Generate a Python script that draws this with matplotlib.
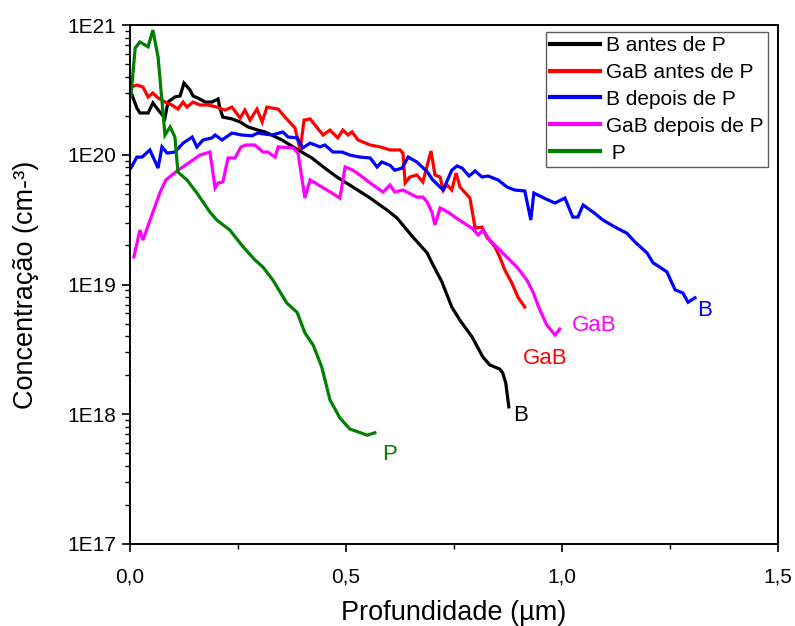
import math
import matplotlib
matplotlib.use("Agg")
import matplotlib.pyplot as plt
from matplotlib.ticker import FixedLocator, FuncFormatter, LogLocator, NullFormatter

plt.rcParams['font.family'] = ['Liberation Sans', 'DejaVu Sans']

# Depth profiles (depth in um, concentration in cm^-3)
b_antes_x = [0.002, 0.016, 0.023, 0.042, 0.053, 0.069, 0.081, 0.088, 0.104, 0.116, 0.125, 0.139,
             0.146, 0.157, 0.174, 0.190, 0.204, 0.208, 0.215, 0.236, 0.255, 0.273, 0.296, 0.313,
             0.352, 0.389, 0.421, 0.451, 0.479, 0.516, 0.556, 0.595, 0.618, 0.655, 0.688, 0.699,
             0.722, 0.745, 0.764, 0.792, 0.817, 0.833, 0.856, 0.863, 0.870, 0.877]
b_antes_y = [3.05e20, 2.29e20, 2.10e20, 2.10e20, 2.51e20, 2.14e20, 1.92e20, 2.55e20, 2.79e20, 2.84e20,
             3.57e20, 3.16e20, 2.84e20, 2.74e20, 2.55e20, 2.55e20, 2.69e20, 2.29e20, 1.95e20, 1.89e20,
             1.79e20, 1.64e20, 1.55e20, 1.50e20, 1.30e20, 1.09e20, 9.45e19, 7.9e19, 6.74e19, 5.64e19,
             4.64e19, 3.75e19, 3.26e19, 2.32e19, 1.75e19, 1.47e19, 1.05e19, 6.7e18, 5.3e18, 3.94e18,
             2.76e18, 2.40e18, 2.23e18, 2.08e18, 1.74e18, 1.14e18]

gab_antes_x = [0.002, 0.016, 0.030, 0.042, 0.053, 0.065, 0.081, 0.097, 0.111, 0.123, 0.132, 0.146,
               0.162, 0.181, 0.201, 0.220, 0.236, 0.255, 0.266, 0.278, 0.294, 0.306, 0.317, 0.343,
               0.359, 0.382, 0.394, 0.403, 0.417, 0.428, 0.447, 0.463, 0.481, 0.493, 0.505, 0.514,
               0.528, 0.556, 0.579, 0.602, 0.625, 0.632, 0.637, 0.648, 0.664, 0.678, 0.697, 0.706,
               0.718, 0.725, 0.734, 0.745, 0.755, 0.764, 0.787, 0.799, 0.815, 0.826, 0.845, 0.856,
               0.868, 0.884, 0.898, 0.914]
gab_antes_y = [3.33e20, 3.45e20, 3.33e20, 2.79e20, 2.99e20, 2.74e20, 2.55e20, 2.42e20, 2.25e20, 2.55e20,
               2.33e20, 2.55e20, 2.42e20, 2.42e20, 2.33e20, 2.21e20, 2.33e20, 1.92e20, 2.21e20, 1.85e20,
               2.25e20, 1.79e20, 2.33e20, 2.25e20, 1.95e20, 1.61e20, 1.09e20, 1.85e20, 1.89e20, 1.70e20,
               1.42e20, 1.55e20, 1.35e20, 1.55e20, 1.42e20, 1.50e20, 1.30e20, 1.19e20, 1.15e20, 1.09e20,
               1.09e20, 1.03e20, 6.06e19, 6.74e19, 6.99e19, 6.17e19, 1.07e20, 6.99e19, 6.74e19, 5.35e19,
               5.85e19, 5.35e19, 7.23e19, 5.64e19, 4.64e19, 2.72e19, 2.77e19, 2.32e19, 1.95e19, 1.63e19,
               1.29e19, 1.03e19, 8.0e18, 6.7e18]

b_depois_x = [0.002, 0.016, 0.028, 0.046, 0.065, 0.074, 0.086, 0.104, 0.123, 0.144, 0.155, 0.169,
              0.190, 0.197, 0.213, 0.236, 0.259, 0.282, 0.296, 0.329, 0.354, 0.366, 0.387, 0.400,
              0.417, 0.440, 0.451, 0.470, 0.491, 0.509, 0.532, 0.556, 0.572, 0.583, 0.602, 0.613,
              0.630, 0.644, 0.664, 0.688, 0.701, 0.725, 0.745, 0.757, 0.769, 0.785, 0.799, 0.815,
              0.829, 0.852, 0.873, 0.891, 0.914, 0.928, 0.935, 0.963, 0.984, 1.007, 1.025, 1.037,
              1.049, 1.072, 1.095, 1.123, 1.150, 1.169, 1.197, 1.211, 1.227, 1.243, 1.262, 1.280,
              1.292, 1.308]
b_depois_y = [7.9e19, 9.6e19, 9.6e19, 1.09e20, 7.9e19, 1.15e20, 1.03e20, 1.05e20, 1.23e20, 1.37e20,
              1.15e20, 1.30e20, 1.35e20, 1.42e20, 1.30e20, 1.47e20, 1.42e20, 1.40e20, 1.47e20, 1.42e20,
              1.50e20, 1.37e20, 1.35e20, 1.13e20, 1.23e20, 1.15e20, 1.19e20, 1.05e20, 1.05e20, 9.95e19,
              9.6e19, 9.45e19, 8.05e19, 8.8e19, 8.3e19, 7.6e19, 7.9e19, 9.6e19, 8.8e19, 7.4e19,
              6.4e19, 5.35e19, 7.6e19, 8.2e19, 7.9e19, 6.86e19, 7.5e19, 6.74e19, 6.86e19, 6.4e19,
              5.64e19, 5.35e19, 5.26e19, 3.14e19, 5.07e19, 4.56e19, 4.25e19, 4.64e19, 3.31e19, 3.31e19,
              4.10e19, 3.62e19, 3.14e19, 2.77e19, 2.49e19, 2.13e19, 1.75e19, 1.47e19, 1.36e19, 1.25e19,
              9.1e18, 8.6e18, 7.3e18, 7.9e18]

gab_depois_x = [0.009, 0.023, 0.030, 0.049, 0.069, 0.083, 0.111, 0.139, 0.162, 0.185, 0.197, 0.204,
                0.215, 0.227, 0.243, 0.257, 0.269, 0.289, 0.308, 0.319, 0.336, 0.343, 0.377, 0.389,
                0.405, 0.417, 0.456, 0.486, 0.498, 0.516, 0.532, 0.556, 0.586, 0.602, 0.613, 0.632,
                0.664, 0.678, 0.688, 0.699, 0.706, 0.718, 0.736, 0.769, 0.792, 0.806, 0.817, 0.833,
                0.863, 0.896, 0.919, 0.933, 0.949, 0.965, 0.984, 0.995]
gab_depois_y = [1.63e19, 2.63e19, 2.20e19, 3.31e19, 5.07e19, 6.4e19, 7.6e19, 8.8e19, 9.95e19, 1.05e20,
                5.55e19, 6.06e19, 6.17e19, 9.45e19, 9.45e19, 1.15e20, 1.19e20, 1.19e20, 1.05e20, 1.05e20,
                9.6e19, 1.15e20, 1.13e20, 1.03e20, 4.64e19, 6.4e19, 5.35e19, 4.64e19, 8.05e19, 7.6e19,
                6.99e19, 6.06e19, 5.16e19, 5.85e19, 5.16e19, 5.35e19, 4.72e19, 4.72e19, 4.32e19, 3.62e19,
                2.88e19, 3.89e19, 3.62e19, 3.03e19, 2.72e19, 2.41e19, 2.63e19, 2.20e19, 1.75e19, 1.36e19,
                1.08e19, 8.75e18, 6.36e18, 4.87e18, 4.08e18, 4.54e18]

p_x = [0.002, 0.012, 0.023, 0.042, 0.053, 0.065, 0.081, 0.093, 0.104, 0.111, 0.132, 0.155, 0.185,
       0.201, 0.231, 0.262, 0.289, 0.308, 0.331, 0.363, 0.387, 0.405, 0.424, 0.444, 0.463, 0.486,
       0.509, 0.549, 0.567]
p_y = [2.79e20, 6.65e20, 7.4e20, 6.8e20, 9.15e20, 5.67e20, 1.42e20, 1.64e20, 1.37e20, 7.36e19,
       6.4e19, 5.07e19, 3.62e19, 3.14e19, 2.63e19, 1.95e19, 1.55e19, 1.36e19, 1.08e19, 7.2e18,
       6.1e18, 4.23e18, 3.42e18, 2.31e18, 1.29e18, 9.36e17, 7.7e17, 6.9e17, 7.2e17]

series_labels = ["B antes de P", "GaB antes de P", "B depois de P", "GaB depois de P", " P"]
series_colors = ["#000000", "#ff0000", "#0000ff", "#ff00ff", "#008000"]

# End-of-curve tags: (text, x, y, colour)
end_tags = [("B", 1.312, 6.3e18, "#0000ff"),
            ("GaB", 1.023, 4.8e18, "#ff00ff"),
            ("GaB", 0.910, 2.7e18, "#ff0000"),
            ("B", 0.887, 9.8e17, "#000000"),
            ("P", 0.583, 4.9e17, "#008000")]

x_ticks = [0.0, 0.5, 1.0, 1.5]
x_minor = [0.25, 0.75, 1.25]
y_ticks = [1e17, 1e18, 1e19, 1e20, 1e21]

fig = plt.figure(figsize=(7.95, 6.26), dpi=100)
ax = fig.add_axes([0.1635, 0.131, 0.815, 0.829])

all_x = [b_antes_x, gab_antes_x, b_depois_x, gab_depois_x, p_x]
all_y = [b_antes_y, gab_antes_y, b_depois_y, gab_depois_y, p_y]
for xs, ys, lab, col in zip(all_x, all_y, series_labels, series_colors):
    ax.plot(xs, ys, color=col, lw=2.3, label=lab, solid_joinstyle='miter')

for txt, tx, ty, col in end_tags:
    ax.text(tx, ty, txt, color=col, fontsize=16, ha='left', va='center')

ax.set_yscale('log')
ax.set_xlim(0, 1.5)
ax.set_ylim(1e17, 1e21)

ax.xaxis.set_major_locator(FixedLocator(x_ticks))
ax.xaxis.set_minor_locator(FixedLocator(x_minor))
ax.xaxis.set_major_formatter(FuncFormatter(lambda v, p: f"{v:.1f}".replace('.', ',')))
ax.yaxis.set_major_locator(FixedLocator(y_ticks))
ax.yaxis.set_minor_locator(LogLocator(base=10, subs=range(2, 10), numticks=20))
ax.yaxis.set_minor_formatter(NullFormatter())
ax.yaxis.set_major_formatter(FuncFormatter(lambda v, p: f"1E{int(round(math.log10(v)))}"))

ax.tick_params(which='major', direction='out', length=6, width=1.2, labelsize=15)
ax.tick_params(axis='x', which='major', pad=11)
ax.tick_params(axis='y', which='major', pad=4)
ax.tick_params(which='minor', direction='out', length=3.5, width=1.0)
for s in ax.spines.values():
    s.set_linewidth(1.4)

ax.set_xlabel("Profundidade (µm)", fontsize=19.5, labelpad=10)
ax.set_ylabel("Concentração (cm-³)", fontsize=19.5, labelpad=20)

leg = ax.legend(loc='upper right', bbox_to_anchor=(0.985, 0.987), borderaxespad=0,
                fontsize=15, frameon=True, fancybox=False, edgecolor='#333333',
                handlelength=2.4, handletextpad=0.3, labelspacing=0.38,
                borderpad=0.2)
leg.get_frame().set_linewidth(1.0)
for h in leg.get_lines():
    h.set_linewidth(3)

fig.savefig("out.png", dpi=100)
